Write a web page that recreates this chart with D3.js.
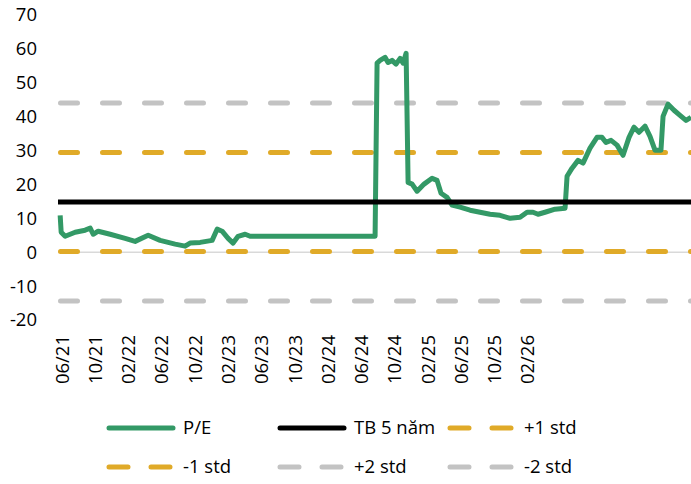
<!DOCTYPE html>
<html>
<head>
<meta charset="utf-8">
<script src="https://cdn.jsdelivr.net/npm/d3@7"></script>
<style>
    body { margin: 0; background: #fff; }
    svg text { font-family: "Open Sans", sans-serif; fill: #000; }
</style>
</head>
<body>
<div class="chart"></div>
<script>
// months since 06/21 (x position) and P/E value
var months = [-0.24, -0.12, 0.36, 1.56, 2.76, 3.37, 3.73, 4.33, 5.77, 7.57, 8.77, 10.34, 11.78, 13.58, 14.78, 15.38,
    16.59, 18.03, 18.63, 19.23, 19.95, 20.55, 21.15, 22.0, 22.6, 37.62, 37.86, 38.22, 38.82, 39.18, 39.66, 40.14,
    40.63, 40.99, 41.35, 41.59, 42.07, 42.67, 43.51, 44.47, 45.07, 45.55, 46.27, 46.88, 47.84, 49.04, 50.24, 51.44,
    52.64, 53.85, 55.05, 55.89, 56.61, 57.21, 58.05, 59.25, 60.46, 60.7, 61.3, 62.02, 62.62, 63.46, 64.3, 64.9,
    65.38, 65.99, 66.71, 67.43, 68.15, 68.75, 69.35, 70.07, 70.67, 71.27, 71.99, 72.24, 72.84, 73.56, 74.28, 75.0, 75.6];
var pe = [10.9, 5.9, 4.7, 5.9, 6.5, 7.1, 5.3, 6.2, 5.3, 4.1, 3.2, 5.0, 3.5, 2.4, 1.8, 2.7,
    2.9, 3.5, 6.8, 6.2, 4.1, 2.7, 4.7, 5.3, 4.7, 4.7, 55.8, 56.6, 57.5, 56.0, 56.6, 55.5,
    57.2, 55.8, 58.7, 20.6, 20.1, 18.0, 20.1, 21.8, 21.2, 17.4, 16.2, 13.9, 13.3, 12.4, 11.8, 11.2,
    10.9, 10.0, 10.3, 11.8, 11.8, 11.2, 11.8, 12.7, 13.0, 22.4, 24.8, 27.1, 26.3, 30.7, 33.9, 33.9,
    32.4, 33.0, 31.6, 28.6, 33.9, 36.9, 35.4, 37.2, 34.2, 30.1, 30.1, 40.1, 43.7, 41.9, 40.4, 38.9, 39.8];

var avg5y = 14.8;
var plus1 = 29.4;
var minus1 = 0.2;
var plus2 = 44.0;
var minus2 = -14.4;

var tickMonths = [0, 4, 8, 12, 16, 20, 24, 28, 32, 36, 40, 44, 48, 52, 56];
var tickLabels = ["06/21", "10/21", "02/22", "06/22", "10/22", "02/23", "06/23", "10/23",
    "02/24", "06/24", "10/24", "02/25", "06/25", "10/25", "02/26"];
var yTicks = [70, 60, 50, 40, 30, 20, 10, 0, -10, -20];

var green = "#339966";
var gold = "#e0aa28";
var grey = "#c3c3c3";

drawChart();

function drawChart() {
    var width = 691, height = 484;
    var fontSize = "18.5px";

    var svg = d3.select(".chart").append("svg")
        .attr("width", width)
        .attr("height", height);

    var xScale = d3.scaleLinear()
        .domain([-0.5, 75.6])
        .range([58, 691]);

    var yScale = d3.scaleLinear()
        .domain([-20, 70])
        .range([320, 15]);

    // y labels
    svg.append("g")
        .attr("class", "y axis")
        .selectAll("text")
        .data(yTicks)
        .enter().append("text")
        .attr("x", 37)
        .attr("y", function (d) { return yScale(d); })
        .attr("dy", "0.35em")
        .attr("text-anchor", "end")
        .style("font-size", fontSize)
        .text(function (d) { return d; });

    // zero line
    svg.append("line")
        .attr("x1", xScale.range()[0]).attr("x2", xScale.range()[1])
        .attr("y1", yScale(0)).attr("y2", yScale(0))
        .attr("stroke", "#d9d9d9")
        .attr("stroke-width", 1.5);

    // x labels, rotated
    svg.append("g")
        .attr("class", "x axis")
        .selectAll("text")
        .data(tickMonths)
        .enter().append("text")
        .attr("transform", function (d) {
            return "translate(" + xScale(d) + ",335) rotate(-90)";
        })
        .attr("dy", "0.35em")
        .attr("text-anchor", "end")
        .style("font-size", fontSize)
        .text(function (d, i) { return tickLabels[i]; });

    var bands = [
        { v: minus2, color: grey },
        { v: plus2, color: grey },
        { v: minus1, color: gold },
        { v: plus1, color: gold }
    ];

    svg.selectAll(".band")
        .data(bands)
        .enter().append("line")
        .attr("class", "band")
        .attr("x1", xScale.range()[0] + 2.5).attr("x2", xScale.range()[1] + 10)
        .attr("y1", function (d) { return yScale(d.v); })
        .attr("y2", function (d) { return yScale(d.v); })
        .attr("stroke", function (d) { return d.color; })
        .attr("stroke-width", 5)
        .attr("stroke-linecap", "round")
        .attr("stroke-dasharray", "17,25");

    var line = d3.line()
        .x(function (d) { return xScale(d.m); })
        .y(function (d) { return yScale(d.v); });

    var dataset = d3.range(months.length).map(function (i) {
        return { m: months[i], v: pe[i] };
    });

    svg.append("path")
        .datum(dataset)
        .attr("fill", "none")
        .attr("stroke", green)
        .attr("stroke-width", 5)
        .attr("stroke-linejoin", "round")
        .attr("d", line);

    // 5 year average
    svg.append("line")
        .attr("x1", xScale.range()[0]).attr("x2", xScale.range()[1])
        .attr("y1", yScale(avg5y)).attr("y2", yScale(avg5y))
        .attr("stroke", "#000")
        .attr("stroke-width", 5);

    // legend
    var legend = [
        { name: "P/E", color: green, dash: false, x: 107, y: 428 },
        { name: "TB 5 năm", color: "#000", dash: false, x: 278, y: 428 },
        { name: "+1 std", color: gold, dash: true, x: 448, y: 428 },
        { name: "-1 std", color: gold, dash: true, x: 107, y: 467 },
        { name: "+2 std", color: grey, dash: true, x: 278, y: 467 },
        { name: "-2 std", color: grey, dash: true, x: 448, y: 467 }
    ];

    var lg = svg.selectAll(".legend")
        .data(legend)
        .enter().append("g")
        .attr("class", "legend")
        .attr("transform", function (d) { return "translate(" + d.x + "," + d.y + ")"; });

    lg.append("line")
        .attr("x1", 2).attr("x2", 66)
        .attr("stroke", function (d) { return d.color; })
        .attr("stroke-width", 5)
        .attr("stroke-linecap", "round")
        .attr("stroke-dasharray", function (d) { return d.dash ? "19,23" : null; });

    lg.append("text")
        .attr("x", 76)
        .attr("dy", "0.35em")
        .style("font-size", fontSize)
        .text(function (d) { return d.name; });
}
</script>
</body>
</html>
